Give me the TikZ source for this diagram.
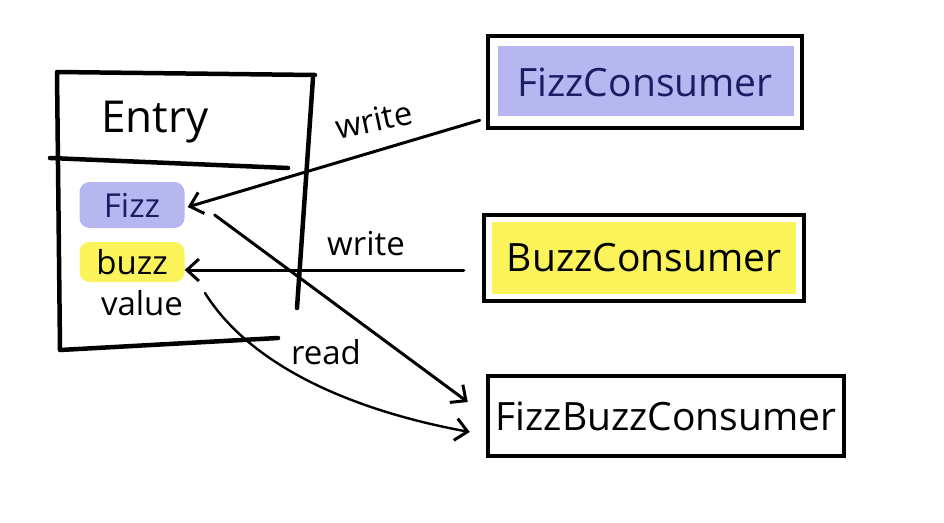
\documentclass[tikz,border=0pt]{standalone}
\usepackage{fontspec}
\setmainfont{Open Sans}
\usetikzlibrary{arrows.meta,calc}
\definecolor{hlblue}{RGB}{182,182,240}
\definecolor{hlyellow}{RGB}{250,244,90}
\definecolor{navy}{RGB}{28,28,100}
\begin{document}
\begin{tikzpicture}[x=1pt,y=-1pt,
  pen/.style={line width=4.5pt,line cap=round,line join=round},
  arr/.style={line width=3pt,line cap=round,-{Straight Barb[length=12pt,width=22pt,line width=3pt]}},
  consumer/.style={draw,line width=4.5pt,inner sep=0pt,font=\fontsize{39}{42}\selectfont},
  field/.style={inner sep=0pt,font=\fontsize{33}{36}\selectfont},
  hl/.style={rounded corners=10pt,minimum width=105pt,minimum height=46pt},
  lbl/.style={inner sep=0pt,font=\fontsize{33}{36}\selectfont}]
\useasboundingbox (0,0) rectangle (944,522);
% Entry box (hand drawn, open at lower right)
\draw[pen] (315,75) -- (57,72) -- (60,350) -- (278,338);
\draw[pen] (313,78) -- (297,308);
\draw[pen] (50,158) -- (288,168);
\node[inner sep=0pt,font=\fontsize{44}{48}\selectfont] (entry) at (155,122) {Entry};
\node[hl,fill=hlblue] (fizz) at (132,205) {};
\node[field,text=navy] (fizztxt) at (fizz) {Fizz};
\node[hl,fill=hlyellow,minimum height=40pt] (buzz) at (132,262) {};
\node[field] (buzztxt) at (buzz) {buzz};
\node[field] (value) at (142,303) {value};
% consumers
\fill[hlblue] (498,46) rectangle (794,116);
\node[consumer,minimum width=314pt,minimum height=92pt,text=navy] (fc) at (645,82) {FizzConsumer};
\fill[hlyellow] (492,222) rectangle (796,294);
\node[consumer,minimum width=320pt,minimum height=86pt] (bc) at (644,258) {BuzzConsumer};
\node[consumer,minimum width=356pt,minimum height=80pt] (fbc) at (666,416) {FizzBuzzConsumer};
% connectors
\draw[arr] ([xshift=-6pt,yshift=10pt]fc.south west) -- ([xshift=3pt,yshift=-2pt]fizz.east);
\node[lbl,rotate=12] (w1) at (374,120) {write};
\draw[arr] ([xshift=-18pt,yshift=-12pt]bc.west) -- ([yshift=-8pt]buzz.east);
\node[lbl] (w2) at (366,244) {write};
\coordinate (fizzout) at ([xshift=30pt,yshift=-10pt]fizz.east);
\draw[arr] (fizzout) -- ([xshift=-18pt,yshift=14pt]fbc.west);
\coordinate (valout) at (205,293);
\draw[arr,line width=2.4pt] (valout) .. controls (250,365) and (350,410) .. ([xshift=-16pt,yshift=-16pt]fbc.west);
\node[lbl] (rd) at (326,352) {read};
\end{tikzpicture}
\end{document}
